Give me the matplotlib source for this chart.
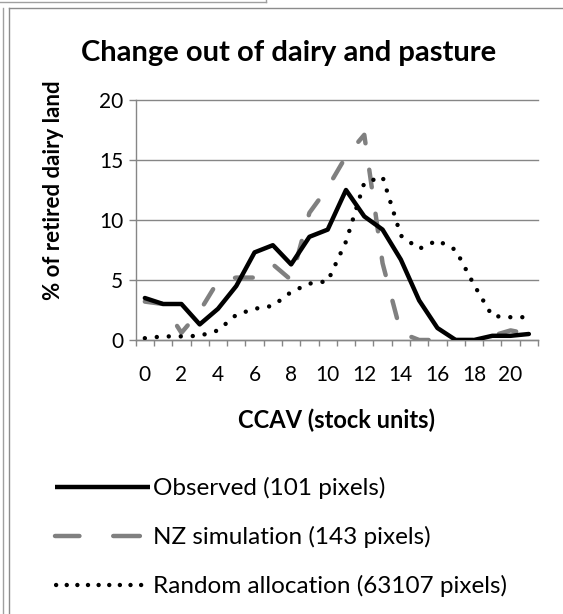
import numpy as np
import matplotlib
matplotlib.use("Agg")
import matplotlib.pyplot as plt
from matplotlib.lines import Line2D

# ===================== data =====================
ccav = list(range(22))
xtick_labels = [str(v) for v in range(0, 21, 2)]

observed = [3.5, 3.0, 3.0, 1.3, 2.6, 4.5, 7.3, 7.9, 6.3, 8.6, 9.2,
            12.5, 10.3, 9.2, 6.7, 3.3, 1.0, 0.0, 0.0, 0.35, 0.35, 0.5]
nz_sim = [3.2, 3.0, 0.6, 2.4, 4.9, 5.2, 5.2, 6.3, 5.0, 10.6, 12.7,
          15.3, 17.1, 6.4, 0.6, 0.0, 0.0, 0.0, 0.0, 0.35, 0.8, 0.5]
random_alloc = [0.15, 0.3, 0.3, 0.35, 0.8, 2.1, 2.6, 2.85, 4.0, 4.7, 4.9,
                8.2, 13.1, 13.6, 8.7, 7.6, 8.3, 7.5, 4.6, 2.0, 1.9, 1.9]

labels = ["Observed (101 pixels)", "NZ simulation (143 pixels)",
          "Random allocation (63107 pixels)"]

# ===================== figure =====================
W, H = 563, 614
plt.rcParams["font.family"] = ["Lato", "DejaVu Sans"]
fig = plt.figure(figsize=(W / 100, H / 100), dpi=100)

def fx(px):
    return px / W

def fy(py):
    return 1 - py / H

# page/table borders around the chart
border = "#a0a0a0"
fig.add_artist(Line2D([fx(2.5), fx(2.5)], [fy(8), fy(614)], color=border, lw=1))
fig.add_artist(Line2D([fx(0), fx(266)], [fy(2), fy(2)], color=border, lw=1))
fig.add_artist(Line2D([fx(266), fx(266)], [fy(0), fy(2)], color=border, lw=1))
fig.add_artist(Line2D([fx(9), fx(9)], [fy(8), fy(614)], color="#8c8c8c", lw=1))
fig.add_artist(Line2D([fx(9), fx(563)], [fy(8), fy(8)], color="#8c8c8c", lw=1))

ax = fig.add_axes([fx(135.7), fy(340), fx(538) - fx(135.7), fy(100) - fy(340)])

axis_col = "#868686"
gray = "#808080"
lw = 3.2
dash = (0, (4.0, 6.0))
dots = (0, (0.001, 2.7))
ax.plot(ccav, observed, color="black", lw=lw, solid_joinstyle="round",
        solid_capstyle="round", zorder=4)
ax.plot(ccav, nz_sim, color=gray, lw=lw, linestyle=dash,
        dash_capstyle="round", dash_joinstyle="round", zorder=3)
ax.plot(ccav, random_alloc, color="black", lw=lw, linestyle=dots,
        dash_capstyle="round", zorder=5)

ax.set_xlim(-0.5, 21.5)
ax.set_ylim(0, 20)
ax.set_yticks([0, 5, 10, 15, 20])
ax.set_xticks(range(0, 21, 2))
ax.set_xticklabels(xtick_labels)
ax.set_xticks(np.arange(-0.5, 22, 1), minor=True)

ax.grid(axis="y", color=axis_col, lw=1)
for gl in ax.get_ygridlines():
    gl.set_clip_on(False)
ax.set_axisbelow(True)

for s in ["top", "right"]:
    ax.spines[s].set_visible(False)
for s in ["left", "bottom"]:
    ax.spines[s].set_color(axis_col)
    ax.spines[s].set_linewidth(1)

ax.tick_params(axis="x", which="major", length=0, pad=18, labelsize=15)
ax.tick_params(axis="x", which="minor", length=4.5, width=1, color=axis_col)
ax.tick_params(axis="y", length=5, width=1, color=axis_col, pad=4, labelsize=15)

ax.set_xlabel("CCAV (stock units)", fontsize=17, fontweight="bold", labelpad=17)
fig.text(fx(54), fy(190), "% of retired dairy land", rotation=90,
         fontsize=16, fontweight="bold", ha="center", va="center")
fig.text(fx(289), fy(53), "Change out of dairy and pasture",
         fontsize=21, fontweight="bold", ha="center", va="center")

# legend handles (Excel draws the legend samples with a longer dash)
handles = [
    Line2D([], [], color="black", lw=lw, solid_capstyle="butt"),
    Line2D([], [], color=gray, lw=lw, linestyle=(0.5, (6.0, 7.6)),
           dash_capstyle="round"),
    Line2D([], [], color="black", lw=lw, linestyle=(-0.25, (0.001, 2.39)),
           dash_capstyle="round"),
]
fig.legend(handles, labels, loc="upper left", bbox_to_anchor=(fx(55), fy(477)),
           frameon=False, fontsize=17.5, handlelength=3.9, handletextpad=0.12,
           labelspacing=1.11, borderpad=0, borderaxespad=0)

fig.savefig("out.png", dpi=100)
